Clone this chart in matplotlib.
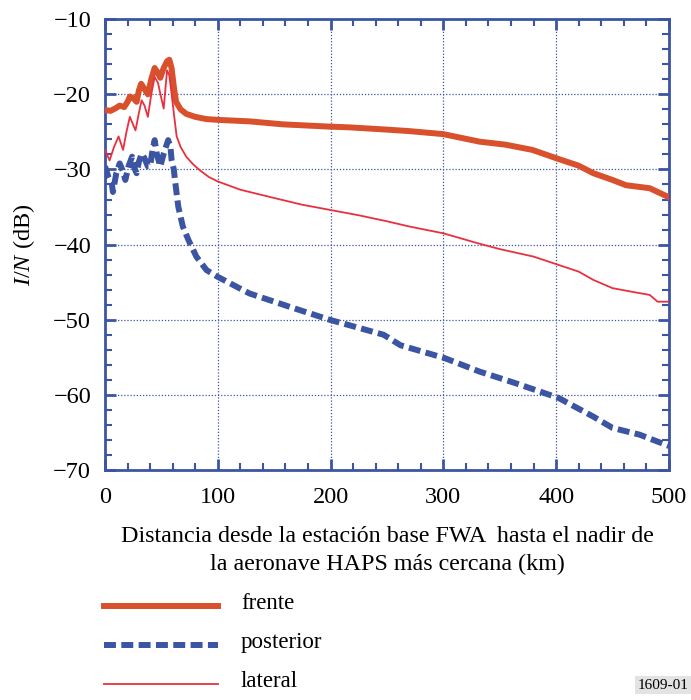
import matplotlib
matplotlib.use("Agg")
import matplotlib.pyplot as plt
from matplotlib.lines import Line2D
from matplotlib.ticker import MultipleLocator

plt.rcParams['font.family'] = ['Liberation Serif', 'DejaVu Serif']
plt.rcParams['mathtext.fontset'] = 'custom'
plt.rcParams['mathtext.rm'] = 'Liberation Serif'
plt.rcParams['mathtext.it'] = 'Liberation Serif:italic'

# distance (km) / I/N (dB)
frente_x = [0, 5, 10, 13, 17, 20, 22, 25, 28, 30, 32, 35, 38, 41, 44, 47, 49, 52, 55, 57,
            59, 61, 63, 67, 72, 80, 90, 100, 128, 158, 199, 217, 250, 270, 300, 332, 355,
            379, 400, 420, 433, 450, 462, 483, 500]
frente_y = [-22.1, -22.2, -21.8, -21.5, -21.7, -21.0, -20.3, -20.5, -21.0, -19.5, -18.6,
            -19.3, -20.0, -18.0, -16.5, -17.2, -17.8, -16.5, -15.6, -15.4, -16.5, -19.0,
            -21.0, -22.0, -22.6, -23.0, -23.3, -23.4, -23.6, -24.0, -24.3, -24.4, -24.7,
            -24.9, -25.3, -26.3, -26.7, -27.4, -28.5, -29.5, -30.5, -31.4, -32.1, -32.5,
            -33.7]

posterior_x = [0, 3, 6, 7, 10, 13, 16, 18, 21, 24, 26, 28, 30, 32.5, 35, 38, 40, 42, 44,
               46, 49, 52, 54, 56, 58, 59, 61, 62, 65, 69, 74, 81, 90, 100, 128, 164, 199,
               247, 262, 301, 332, 363, 402, 433, 450, 474, 500]
posterior_y = [-29.6, -31.0, -31.9, -33.0, -30.5, -29.2, -30.3, -31.4, -29.5, -28.3, -29.8,
               -30.5, -29.0, -27.9, -28.5, -29.6, -29.6, -27.5, -26.1, -28.0, -29.6, -27.9,
               -27.0, -26.1, -27.0, -28.7, -30.0, -31.4, -35.0, -37.6, -39.4, -41.6, -43.4,
               -44.3, -46.5, -48.3, -50.0, -52.0, -53.4, -55.1, -56.9, -58.4, -60.4, -62.9,
               -64.4, -65.3, -66.8]

lateral_x = [0, 4, 8, 12, 16, 19, 22, 27, 30, 32.5, 35, 38, 41, 44, 47, 49, 52, 55, 57, 59,
             61, 63.5, 67, 72, 78, 84, 92, 100, 120, 150, 175, 200, 225, 250, 270, 300, 330,
             350, 380, 400, 420, 433, 450, 468, 483, 490, 500]
lateral_y = [-27.4, -28.8, -27.0, -25.6, -27.4, -25.0, -23.0, -24.8, -22.5, -20.8, -21.5,
             -23.0, -20.0, -17.7, -18.5, -19.9, -21.9, -16.8, -17.5, -19.9, -22.5, -25.6,
             -27.0, -28.3, -29.3, -30.1, -31.0, -31.6, -32.7, -33.8, -34.7, -35.4, -36.1,
             -36.9, -37.6, -38.5, -39.8, -40.6, -41.6, -42.6, -43.6, -44.7, -45.8, -46.3,
             -46.7, -47.6, -47.6]

c_frente = '#D9512C'
c_post = '#3B55A3'
c_lat = '#E8303F'
c_axis = '#3B55A3'
fs = 17.5

fig = plt.figure(figsize=(6.91, 7.0), dpi=100)
ax = fig.add_axes([0.152, 0.3286, 0.816, 0.644])

ax.plot(frente_x, frente_y, color=c_frente, lw=4.3, solid_joinstyle='round', zorder=3)
ax.plot(posterior_x, posterior_y, color=c_post, lw=4.3, dashes=(2.0, 0.9),
        dash_capstyle='butt', zorder=3)
ax.plot(lateral_x, lateral_y, color=c_lat, lw=1.3, zorder=4)

ax.set_xlim(0, 500)
ax.set_ylim(-70, -10)
ax.xaxis.set_major_locator(MultipleLocator(100))
ax.xaxis.set_minor_locator(MultipleLocator(20))
ax.yaxis.set_major_locator(MultipleLocator(10))
ax.yaxis.set_minor_locator(MultipleLocator(2))
ax.tick_params(which='both', direction='in', top=True, right=True, color=c_axis,
               labelsize=fs)
ax.tick_params(axis='x', pad=12)
ax.tick_params(axis='y', pad=10)
ax.tick_params(which='major', length=8, width=2)
ax.tick_params(which='minor', length=5, width=1.5)
for s in ax.spines.values():
    s.set_color(c_axis)
    s.set_linewidth(2)
ax.grid(True, which='major', color=c_axis, linestyle=(0, (1, 1.5)), linewidth=0.9)

ax.set_ylabel(r'$\mathit{I/N}$ (dB)', fontsize=fs, labelpad=12)
ax.set_xlabel('Distancia desde la estación base FWA  hasta el nadir de\n'
              'la aeronave HAPS más cercana (km)', fontsize=17.3, labelpad=13,
              linespacing=1.45)

# legend drawn below the axes
rows = [('frente', dict(color=c_frente, lw=4.3)),
        ('posterior', dict(color=c_post, lw=4.3, dashes=(2.0, 0.9), dash_capstyle='butt')),
        ('lateral', dict(color=c_lat, lw=1.3))]
for i, (lab, style) in enumerate(rows):
    yy = 1 - (606 + 39 * i) / 700
    fig.add_artist(Line2D([104 / 691, 218 / 691], [yy, yy], **style))
    fig.text(241 / 691, yy + 0.004, lab, fontsize=16.5, va='center', ha='left')

fig.text(0.997, 0.012, '1609-01', fontsize=11, ha='right', va='bottom',
         bbox=dict(facecolor='#E3E3E3', edgecolor='none', pad=2))

fig.savefig('out.png', dpi=100)
